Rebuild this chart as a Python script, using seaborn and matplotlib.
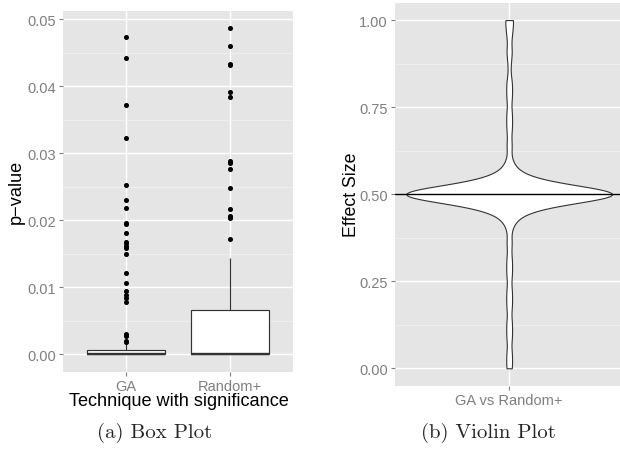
import numpy as np
import pandas as pd
import matplotlib
matplotlib.use("Agg")
import matplotlib.pyplot as plt
from matplotlib.ticker import MultipleLocator, FormatStrFormatter
import seaborn as sns

# p-values of the significance tests, per technique (most are exactly zero)
ga_pvalues = [0.0] * 90 + [
    0.0001, 0.0003, 0.0005, 0.0007, 0.0007, 0.0008, 0.0010, 0.0012, 0.0013, 0.0015,
    0.0018, 0.0020, 0.0028, 0.0031, 0.0079, 0.0084, 0.0088, 0.0094, 0.0106, 0.0122,
    0.0150, 0.0159, 0.0162, 0.0166, 0.0168, 0.0181, 0.0194, 0.0196, 0.0218, 0.0230,
    0.0253, 0.0323, 0.0372, 0.0443, 0.0474,
]
random_pvalues = [0.0] * 43 + [
    0.0002, 0.0005, 0.0008, 0.0011, 0.0015, 0.0019, 0.0023, 0.0028, 0.0033, 0.0038,
    0.0044, 0.0050, 0.0056, 0.0062, 0.0067, 0.0068, 0.0090, 0.0115, 0.0144,
    0.0173, 0.0203, 0.0205, 0.0207, 0.0217, 0.0249, 0.0276, 0.0285, 0.0289, 0.0384,
    0.0391, 0.0432, 0.0434, 0.0460, 0.0487,
]
techniques = ["GA", "Random+"]

# effect sizes (A12) GA vs Random+, as value / frequency table
effect_values = [0.00, 0.04, 0.09, 0.13, 0.18, 0.22, 0.27, 0.31, 0.36, 0.41, 0.44, 0.47,
                 0.50, 0.53, 0.56, 0.59, 0.64, 0.69, 0.73, 0.78, 0.82, 0.87, 0.91, 0.96, 1.00]
effect_counts = [2, 2, 2, 2, 2, 2, 2, 2, 2, 2, 5, 20,
                 78, 20, 5, 2, 2, 2, 2, 2, 2, 1, 2, 2, 3]
comparison = "GA vs Random+"

box_df = pd.DataFrame({
    "technique": [techniques[0]] * len(ga_pvalues) + [techniques[1]] * len(random_pvalues),
    "pvalue": ga_pvalues + random_pvalues,
})
effect = np.repeat(effect_values, effect_counts)
vio_df = pd.DataFrame({"comparison": comparison, "effect": effect})

sns.set_theme(style="darkgrid")
plt.rcParams["font.family"] = ["Liberation Sans", "DejaVu Sans"]

W, H = 620, 452
fig = plt.figure(figsize=(6.2, 4.52), dpi=100)


def px_axes(x0, y0, x1, y1):
    return fig.add_axes([x0 / W, 1 - y1 / H, (x1 - x0) / W, (y1 - y0) / H])


def style_axes(ax, minor_step):
    ax.set_facecolor("#E5E5E5")
    for s in ax.spines.values():
        s.set_visible(False)
    ax.yaxis.set_minor_locator(MultipleLocator(minor_step))
    ax.grid(which="major", color="white", linewidth=1.0)
    ax.grid(which="minor", axis="y", color="#F2F2F2", linewidth=0.5)
    ax.set_axisbelow(True)
    ax.tick_params(which="major", direction="out", length=3.2, width=0.8,
                   color="#7F7F7F", labelcolor="#7F7F7F", labelsize=10.5, pad=2,
                   left=True, bottom=True)
    ax.tick_params(which="minor", length=0)
    ax.set_xlabel("")
    ax.set_ylabel("")


# (a) box plot
ax1 = px_axes(63, 12, 293, 372.7)
sns.boxplot(data=box_df, x="technique", y="pvalue", order=techniques, ax=ax1,
            color="white", linecolor="#333333", linewidth=0.85, width=0.75,
            showcaps=False, fliersize=2.6,
            flierprops=dict(marker="o", markerfacecolor="black",
                            markeredgecolor="black"),
            medianprops=dict(linewidth=1.7))
ax1.set_xlim(-0.6, 1.6)
ax1.set_ylim(-0.00257, 0.05124)
ax1.set_yticks([0.0, 0.01, 0.02, 0.03, 0.04, 0.05])
ax1.yaxis.set_major_formatter(FormatStrFormatter("%.2f"))
style_axes(ax1, 0.005)

# (b) violin plot
ax2 = px_axes(395, 4, 623.3, 386.7)
bw = 0.022 / np.std(effect, ddof=1)
sns.violinplot(data=vio_df, x="comparison", y="effect", ax=ax2,
               color="white", linecolor="#333333", linewidth=0.8,
               inner=None, cut=0, width=1.08, gridsize=400, bw_method=bw)
ax2.axhline(0.5, color="black", linewidth=1.0, zorder=5)
ax2.set_xlim(-0.6, 0.6)
ax2.set_ylim(-0.05, 1.049)
ax2.set_yticks([0.0, 0.25, 0.5, 0.75, 1.0])
ax2.yaxis.set_major_formatter(FormatStrFormatter("%.2f"))
style_axes(ax2, 0.125)

# axis titles
fig.text(15.8 / W, 1 - 192 / H, "p\u2212value", rotation=90, ha="center", va="center",
         fontsize=13.1, color="black")
fig.text(178.5 / W, 1 - 406 / H, "Technique with significance", ha="center",
         va="baseline", fontsize=13.1, color="black")
fig.text(351.5 / W, 1 - 195 / H, "Effect Size", rotation=90, ha="center", va="center",
         fontsize=12.8, color="black")

# LaTeX-style subfigure captions
fig.text(155 / W, 1 - 433 / H, "(a) Box Plot", ha="center", va="center",
         fontsize=15, family="cmr10")
fig.text(488 / W, 1 - 433 / H, "(b) Violin Plot", ha="center", va="center",
         fontsize=15, family="cmr10")

fig.savefig("out.png", dpi=100)
